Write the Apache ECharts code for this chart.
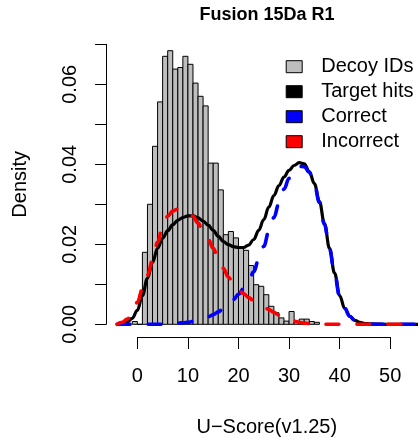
<!DOCTYPE html>
<html>
<head>
<meta charset="utf-8">
<script src="https://cdn.jsdelivr.net/npm/echarts@6/dist/echarts.min.js"></script>
<style>
  html, body { margin: 0; padding: 0; background: #fff; }
  #chart { width: 418px; height: 442px; }
</style>
</head>
<body>
<div id="chart"></div>
<script>
// Decoy score histogram: left edge of each unit-width bin and its density
const binWidth = 1;
const decoyBinLeft = [-1, 0, 1, 2, 3, 4, 5, 6, 7, 8, 9, 10, 11, 12, 13, 14, 15, 16, 17, 18,
  19, 20, 21, 22, 23, 24, 25, 26, 27, 28, 29, 30, 31, 32, 33, 34, 35];
const decoyDensity = [0.0007, 0.0000, 0.0180, 0.0300, 0.0445, 0.0556, 0.0670, 0.0684, 0.0638, 0.0642,
  0.0670, 0.0650, 0.0603, 0.0570, 0.0546, 0.0403, 0.0403, 0.0336, 0.0224, 0.0232,
  0.0216, 0.0190, 0.0185, 0.0147, 0.0099, 0.0095, 0.0074, 0.0045, 0.0029, 0.0016,
  0.0008, 0.0032, 0.0006, 0.0013, 0.0013, 0.0007, 0.0005];

// Density curves sampled on a shared score grid
const curveX = [-4, -3, -2, -1, 0, 1, 2, 3, 4, 5, 6, 7, 8, 9, 10, 11, 12, 13, 14, 15,
  16, 17, 18, 19, 20, 21, 22, 23, 24, 25, 26, 27, 28, 29, 30, 31, 32, 33, 34, 35,
  36, 37, 38, 39, 40, 41, 42, 43, 44, 45, 46, 50, 55.5];
const targetDensity = [0.0000, 0.0002, 0.0006, 0.0015, 0.0035, 0.0072, 0.0115, 0.0155, 0.0190, 0.0215,
  0.0234, 0.0249, 0.0260, 0.0267, 0.0271, 0.0271, 0.0266, 0.0258, 0.0248, 0.0235,
  0.0220, 0.0207, 0.0199, 0.0194, 0.0192, 0.0192, 0.0198, 0.0212, 0.0235, 0.0262,
  0.0293, 0.0322, 0.0347, 0.0368, 0.0385, 0.0397, 0.0404, 0.0401, 0.0382, 0.0352,
  0.0307, 0.0252, 0.0190, 0.0128, 0.0072, 0.0040, 0.0020, 0.0010, 0.0005, 0.0002,
  0.0001, 0.0000, 0.0000];
const correctDensity = [0.0000, 0.0000, 0.0000, 0.0000, 0.0000, 0.0000, 0.0000, 0.0000, 0.0000, 0.0000,
  0.0001, 0.0002, 0.0003, 0.0004, 0.0005, 0.0007, 0.0010, 0.0014, 0.0019, 0.0024,
  0.0031, 0.0039, 0.0050, 0.0062, 0.0075, 0.0089, 0.0107, 0.0131, 0.0162, 0.0195,
  0.0232, 0.0267, 0.0302, 0.0338, 0.0365, 0.0385, 0.0395, 0.0394, 0.0380, 0.0350,
  0.0305, 0.0250, 0.0188, 0.0127, 0.0070, 0.0040, 0.0020, 0.0010, 0.0005, 0.0002,
  0.0000, 0.0000, 0.0000];
const incorrectDensity = [0.0000, 0.0005, 0.0013, 0.0027, 0.0055, 0.0088, 0.0123, 0.0160, 0.0205, 0.0245,
  0.0270, 0.0283, 0.0288, 0.0287, 0.0281, 0.0270, 0.0253, 0.0233, 0.0213, 0.0190,
  0.0163, 0.0140, 0.0118, 0.0101, 0.0088, 0.0077, 0.0067, 0.0059, 0.0053, 0.0045,
  0.0037, 0.0030, 0.0023, 0.0017, 0.0012, 0.0008, 0.0005, 0.0003, 0.0002, 0.0001,
  0.0000, 0.0000, 0.0000, 0.0000, 0.0000, 0.0000, 0.0000, 0.0000, 0.0000, 0.0000,
  0.0000, 0.0000, 0.0000];

// Axis ticks
const xTickMin = 0, xTickMax = 50, xTickStep = 10;
const yTickMin = 0, yTickMax = 0.07, yTickStep = 0.01;

const FONT = 'Liberation Sans, Arial, Helvetica, sans-serif';
const pair = (xs, ys) => xs.map((x, i) => [x, ys[i]]);

const chart = echarts.init(document.getElementById('chart'), null, { renderer: 'canvas' });

chart.setOption({
  animation: false,
  backgroundColor: '#ffffff',
  textStyle: { fontFamily: FONT, color: '#000' },
  title: {
    text: 'Fusion 15Da R1',
    left: 267, top: 6, textAlign: 'center', padding: 0,
    textStyle: { fontFamily: FONT, fontWeight: 'bold', fontSize: 18, color: '#000' }
  },
  legend: {
    orient: 'vertical',
    left: 285.7, top: 56.7, padding: 0,
    itemWidth: 16, itemHeight: 12, itemGap: 5,
    textStyle: { fontFamily: FONT, fontSize: 20, color: '#000', lineHeight: 20, padding: [0, 0, 0, 14] },
    selectedMode: false,
    data: [
      { name: 'Decoy IDs', icon: 'rect', itemStyle: { color: '#bebebe', borderColor: '#000', borderWidth: 1, borderType: 'solid' } },
      { name: 'Target hits', icon: 'rect', itemStyle: { color: '#000000', borderColor: '#000', borderWidth: 1, borderType: 'solid' } },
      { name: 'Correct', icon: 'rect', itemStyle: { color: '#0000ff', borderColor: '#000', borderWidth: 1, borderType: 'solid' } },
      { name: 'Incorrect', icon: 'rect', itemStyle: { color: '#ff0000', borderColor: '#000', borderWidth: 1, borderType: 'solid' } }
    ]
  },
  grid: [
    { left: 106, right: 0, top: 44.3, height: 280 },
    { left: 137.4, width: 252.8, top: 336, height: 1 }
  ],
  xAxis: [
    { gridIndex: 0, type: 'value', min: -6.2, max: 55.5, show: false },
    {
      gridIndex: 1, type: 'value', min: xTickMin, max: xTickMax, interval: xTickStep,
      position: 'bottom',
      axisLine: { show: true, onZero: false, lineStyle: { color: '#000', width: 1 } },
      axisTick: { show: true, length: 12, lineStyle: { color: '#000', width: 1 } },
      axisLabel: { show: true, margin: 29, fontFamily: FONT, fontSize: 20, color: '#000' },
      splitLine: { show: false },
      name: 'U\u2212Score(v1.25)', nameLocation: 'middle', nameGap: 80,
      nameTextStyle: { fontFamily: FONT, fontSize: 20, color: '#000', padding: [0, 0, 0, 6] }
    }
  ],
  yAxis: [
    {
      gridIndex: 0, type: 'value', min: yTickMin, max: yTickMax, interval: yTickStep,
      axisLine: { show: true, onZero: false, lineStyle: { color: '#000', width: 1 } },
      axisTick: { show: true, length: 11, lineStyle: { color: '#000', width: 1 } },
      axisLabel: {
        show: true, rotate: 90, margin: 26, fontFamily: FONT, fontSize: 20, color: '#000',
        formatter: v => (Math.round(v * 100) % 2 === 0 ? v.toFixed(2) : '')
      },
      splitLine: { show: false },
      name: 'Density', nameLocation: 'middle', nameGap: 76, nameRotate: 90,
      nameTextStyle: { fontFamily: FONT, fontSize: 20, color: '#000' }
    },
    { gridIndex: 1, type: 'value', show: false }
  ],
  series: [
    {
      name: 'Decoy IDs',
      type: 'custom',
      xAxisIndex: 0, yAxisIndex: 0,
      data: decoyBinLeft.map((b, i) => [b, b + binWidth, decoyDensity[i]]),
      encode: { x: [0, 1], y: 2 },
      itemStyle: { color: '#bebebe' },
      renderItem: (params, api) => {
        const topLeft = api.coord([api.value(0), api.value(2)]);
        const bottomRight = api.coord([api.value(1), 0]);
        return {
          type: 'rect',
          shape: {
            x: topLeft[0], y: topLeft[1],
            width: bottomRight[0] - topLeft[0],
            height: bottomRight[1] - topLeft[1]
          },
          style: { fill: '#bebebe', stroke: '#000', lineWidth: 1 }
        };
      }
    },
    {
      name: 'Target hits', type: 'line', xAxisIndex: 0, yAxisIndex: 0,
      data: pair(curveX, targetDensity),
      showSymbol: false, symbol: 'none', smooth: 0.4, smoothMonotone: 'x', clip: false,
      itemStyle: { color: '#000' },
      lineStyle: { color: '#000', width: 3.2 }
    },
    {
      name: 'Correct', type: 'line', xAxisIndex: 0, yAxisIndex: 0,
      data: pair(curveX, correctDensity),
      showSymbol: false, symbol: 'none', smooth: 0.4, smoothMonotone: 'x', clip: false,
      itemStyle: { color: '#0000ff' },
      lineStyle: { color: '#0000ff', width: 3.6, type: [13, 18], cap: 'round' }
    },
    {
      name: 'Incorrect', type: 'line', xAxisIndex: 0, yAxisIndex: 0,
      data: pair(curveX, incorrectDensity),
      showSymbol: false, symbol: 'none', smooth: 0.4, smoothMonotone: 'x', clip: false,
      itemStyle: { color: '#ff0000' },
      lineStyle: { color: '#ff0000', width: 3.6, type: [13, 18], cap: 'round' }
    }
  ]
});
</script>
</body>
</html>
